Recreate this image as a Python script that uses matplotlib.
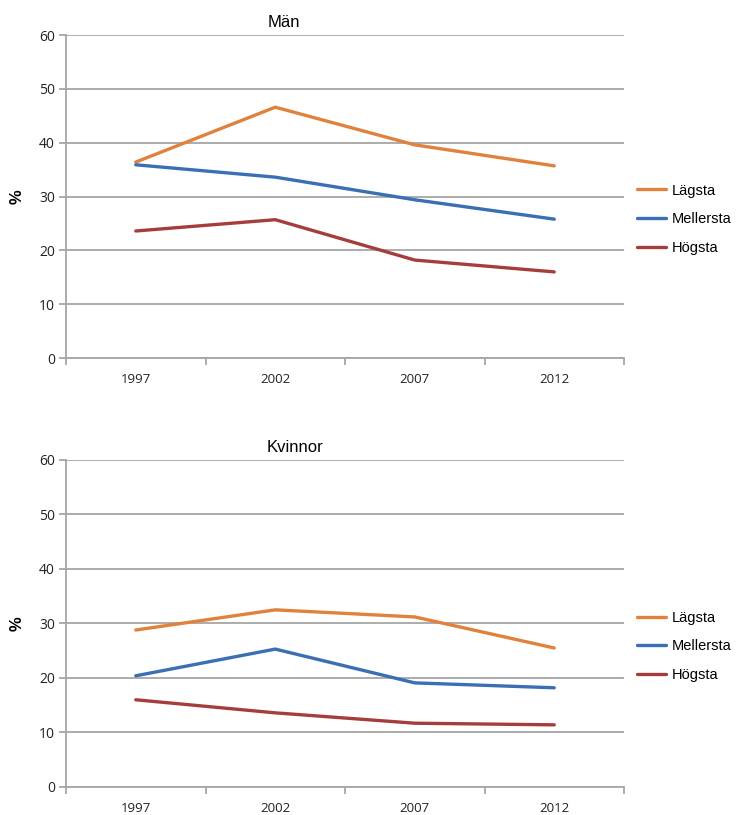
import matplotlib; matplotlib.use('Agg')
import matplotlib.pyplot as plt
from matplotlib.ticker import MultipleLocator, FixedLocator

years = ['1997', '2002', '2007', '2012']
series = ['Lägsta', 'Mellersta', 'Högsta']
colors = ['#E0823D', '#3B6FB3', '#A53D3D']

man_lagsta = [36.4, 46.6, 39.6, 35.7]
man_mellersta = [35.9, 33.6, 29.4, 25.8]
man_hogsta = [23.6, 25.7, 18.2, 16.0]

kvinnor_lagsta = [28.8, 32.5, 31.2, 25.5]
kvinnor_mellersta = [20.4, 25.3, 19.1, 18.2]
kvinnor_hogsta = [16.0, 13.6, 11.7, 11.4]

panels = [
    ('Män', [man_lagsta, man_mellersta, man_hogsta], [0.0891, 0.5607, 0.753, 0.3963], 0.39),
    ('Kvinnor', [kvinnor_lagsta, kvinnor_mellersta, kvinnor_hogsta], [0.0891, 0.0344, 0.753, 0.4012], 0.41),
]

grid_c = '#A6A6A6'
fig = plt.figure(figsize=(7.41, 8.15), dpi=100)

for title, data, rect, tx in panels:
    ax = fig.add_axes(rect)
    x = range(len(years))
    for vals, name, c in zip(data, series, colors):
        ax.plot(x, vals, color=c, lw=2.4, label=name, solid_capstyle='round')
    ax.set_xlim(-0.5, len(years) - 0.5)
    ax.set_ylim(0, 60)
    ax.yaxis.set_major_locator(MultipleLocator(10))
    ax.grid(axis='y', color=grid_c, lw=1.3)
    ax.set_axisbelow(True)
    for s in ['top', 'right']:
        ax.spines[s].set_visible(False)
    for s in ['left', 'bottom']:
        ax.spines[s].set_color(grid_c)
        ax.spines[s].set_linewidth(1.3)
    ax.set_xticks(list(x))
    ax.set_xticklabels(years, fontfamily='Open Sans', fontsize=9.5, color='#222222')
    ax.xaxis.set_minor_locator(FixedLocator([i - 0.5 for i in range(len(years) + 1)]))
    ax.tick_params(axis='x', which='major', length=0, pad=11)
    ax.tick_params(axis='x', which='minor', length=5, color=grid_c, width=1.3)
    ax.tick_params(axis='y', length=5, color=grid_c, width=1.3, pad=3)
    for lab in ax.get_yticklabels():
        lab.set_fontfamily('Open Sans')
        lab.set_fontsize(10)
        lab.set_color('#222222')
    ax.set_ylabel('%', fontsize=12, fontweight='bold', fontfamily='Liberation Sans', labelpad=10)
    ax.text(tx, 1.015, title, transform=ax.transAxes, ha='center', va='bottom',
            fontsize=12, fontfamily='Liberation Sans')
    ax.legend(loc='center left', bbox_to_anchor=(1.0, 0.43), frameon=False,
              prop={'family': 'Liberation Sans', 'size': 10.5},
              handlelength=2.0, handletextpad=0.4, labelspacing=1.0)

fig.savefig('out.png', dpi=100)
